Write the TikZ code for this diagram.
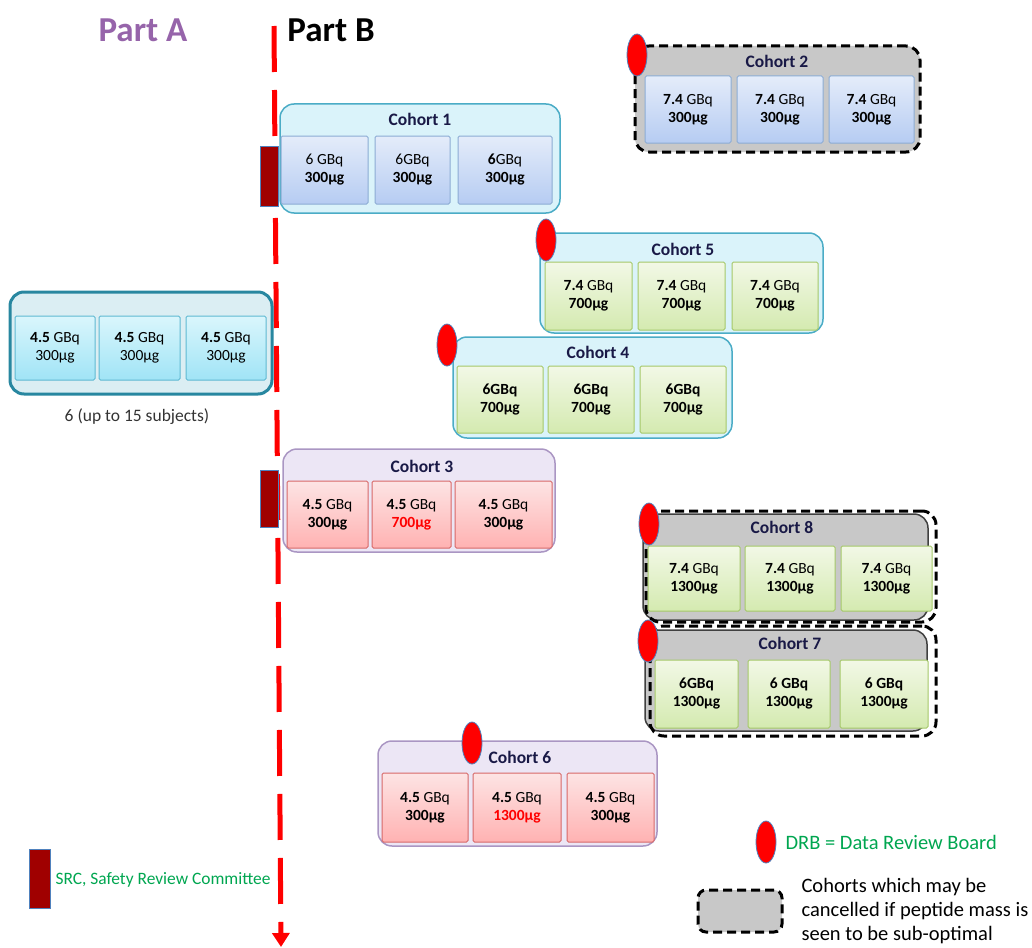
\documentclass[tikz,border=0pt]{standalone}
\usepackage{fontspec}
\setmainfont{Carlito}
\usetikzlibrary{arrows.meta, shapes.geometric}

\definecolor{cyanline}{RGB}{75,172,198}
\definecolor{cyanfill}{RGB}{218,243,250}
\definecolor{tealline}{RGB}{40,135,160}
\definecolor{tealfill}{RGB}{219,238,243}
\definecolor{blueline}{RGB}{140,172,212}
\definecolor{bluetop}{RGB}{228,236,250}
\definecolor{bluebot}{RGB}{182,204,242}
\definecolor{greenline}{RGB}{165,200,105}
\definecolor{greentop}{RGB}{242,248,230}
\definecolor{greenbot}{RGB}{212,234,176}
\definecolor{aquaedge}{RGB}{95,185,210}
\definecolor{aquatop}{RGB}{218,246,252}
\definecolor{aquabot}{RGB}{160,228,246}
\definecolor{lavline}{RGB}{170,150,195}
\definecolor{lavfill}{RGB}{236,230,245}
\definecolor{pinkline}{RGB}{215,105,105}
\definecolor{pinktop}{RGB}{253,228,228}
\definecolor{pinkbot}{RGB}{255,178,178}
\definecolor{greyfill}{RGB}{200,200,200}
\definecolor{srcred}{RGB}{160,0,0}
\definecolor{drbedge}{RGB}{79,129,189}
\definecolor{legendgreen}{RGB}{0,166,80}
\definecolor{partApurple}{RGB}{150,100,170}
\definecolor{titleblue}{RGB}{25,25,70}

\begin{document}
\begin{tikzpicture}[
		x=1pt, y=-1pt,
		% Cohort frame styles
		frame/.style={rounded corners=14pt, inner sep=0pt, line width=1.5pt},
		frameC/.style={frame, draw=cyanline, fill=cyanfill},
		frameA/.style={frame, draw=tealline, fill=tealfill, line width=3pt},
		frameP/.style={frame, draw=lavline, fill=lavfill},
		frameG/.style={frame, draw=black!75, fill=greyfill},
		frameX/.style={frame, draw=black, line width=3pt, dash pattern=on 9pt off 5pt},
		cohorttitle/.style={font=\fontsize{17.5}{20}\selectfont\bfseries, text=titleblue},
		% Dose box styles
		dose/.style={inner sep=0pt, rounded corners=1.5pt, line width=1pt, align=center, font=\fontsize{15.5}{18}\selectfont},
		doseB/.style={dose, draw=blueline, top color=bluetop, bottom color=bluebot},
		doseG/.style={dose, draw=greenline, top color=greentop, bottom color=greenbot},
		doseA/.style={dose, draw=aquaedge, top color=aquatop, bottom color=aquabot},
		doseP/.style={dose, draw=pinkline, top color=pinktop, bottom color=pinkbot},
		% Review markers
		drb/.style={ellipse, fill=red, draw=drbedge, line width=0.8pt, minimum width=20pt, minimum height=42pt, inner sep=0pt},
		src/.style={rectangle, fill=srcred, draw=drbedge, line width=0.8pt, inner sep=0pt},
		legendtext/.style={font=\fontsize{20.5}{24}\selectfont}
		]
		
		\useasboundingbox (0,0) rectangle (1032,947);
		
		% --- HEADINGS AND DIVIDER ---
		\node[font=\fontsize{35}{40}\selectfont\bfseries, text=partApurple] (partA) at (143,30) {Part A};
		\node[font=\fontsize{35}{40}\selectfont\bfseries] (partB) at (331,30) {Part B};
		
		\coordinate (divtop) at (274,26);
		\coordinate (divbot) at (281,947);
		\draw[red, line width=5pt, dash pattern=on 46pt off 18pt, -{Triangle[width=17pt,length=14pt]}] (divtop) -- (divbot);
		
		% --- PART A ---
		\node[frameA, minimum width=262pt, minimum height=102pt] (pA) at (141,343) {};
		\foreach \cx/\w [count=\i] in {55/80, 139.5/81, 226/80}
		\node[doseA, minimum width=\w pt, minimum height=64pt] (pAd\i) at (\cx,348) {\textbf{4.5} GBq\\300µg};
		\node[font=\fontsize{17.5}{20}\selectfont, text=black!80] (pAn) at (137,417) {6 (up to 15 subjects)};
		
		% --- PART B ---
		
		% 1. Cohort 1
		\node[frameC, minimum width=280pt, minimum height=109pt] (c1) at (420,158.5) {};
		\node[cohorttitle] (c1t) at (420,119) {Cohort 1};
		\foreach \cx/\w/\gb [count=\i] in {324.5/87/{6 GBq}, 412.5/75/{6GBq}, 505/94/{\textbf{6}GBq}}
		\node[doseB, minimum width=\w pt, minimum height=68pt] (c1d\i) at (\cx,170) {\gb\\\textbf{300µg}};
		\node[src, minimum width=18pt, minimum height=60pt] (src1) at (269,176) {};
		
		% 2. Cohort 2
		\node[frameG, draw=none, minimum width=285pt, minimum height=106pt] (c2) at (777.5,99) {};
		\node[frameX, minimum width=285pt, minimum height=106pt] (c2x) at (777.5,99) {};
		\node[cohorttitle] (c2t) at (777,61) {Cohort 2};
		\foreach \cx/\w [count=\i] in {688/86, 780/86, 871.5/85}
		\node[doseB, minimum width=\w pt, minimum height=67pt] (c2d\i) at (\cx,109.5) {\textbf{7.4} GBq\\\textbf{300µg}};
		\node[drb] (drb2) at (637,55) {};
		
		% 5. Cohort 5
		\node[frameC, minimum width=283pt, minimum height=100pt] (c5) at (681.5,283) {};
		\node[cohorttitle] (c5t) at (683,249) {Cohort 5};
		\foreach \cx/\w [count=\i] in {588.5/87, 681.5/87, 775/86}
		\node[doseG, minimum width=\w pt, minimum height=68pt] (c5d\i) at (\cx,296) {\textbf{7.4} GBq\\\textbf{700µg}};
		\node[drb] (drb5) at (546,240) {};
		
		% 4. Cohort 4
		\node[frameC, minimum width=279pt, minimum height=101pt] (c4) at (592.5,387.5) {};
		\node[cohorttitle] (c4t) at (598,352) {Cohort 4};
		\foreach \cx/\w [count=\i] in {500/86, 591/86, 683/86}
		\node[doseG, minimum width=\w pt, minimum height=67pt] (c4d\i) at (\cx,399.5) {\textbf{6GBq}\\\textbf{700µg}};
		\node[drb] (drb4) at (447,345) {};
		
		% 3. Cohort 3
		\node[frameP, minimum width=272pt, minimum height=103pt] (c3) at (419,500.5) {};
		\node[cohorttitle] (c3t) at (422,466) {Cohort 3};
		\foreach \cx/\w/\mass [count=\i] in {327.5/81/{300µg}, 411.5/79/{\textcolor{red}{700µg}}, 503.5/97/{300µg}}
		\node[doseP, minimum width=\w pt, minimum height=67pt] (c3d\i) at (\cx,514.5) {\textbf{4.5} GBq\\\textbf{\mass}};
		\node[src, minimum width=18pt, minimum height=57pt] (src3) at (269,498.5) {};
		
		% 8. Cohort 8
		\node[frameG, minimum width=285pt, minimum height=106pt] (c8) at (785.5,567) {};
		\node[frameX, minimum width=290pt, minimum height=111pt] (c8x) at (791,566.5) {};
		\node[cohorttitle] (c8t) at (782,527) {Cohort 8};
		\foreach \cx/\w [count=\i] in {694/92, 790/90, 886.5/91}
		\node[doseG, minimum width=\w pt, minimum height=65pt] (c8d\i) at (\cx,578.5) {\textbf{7.4} GBq\\\textbf{1300µg}};
		\node[drb] (drb8) at (649,524) {};
		
		% 7. Cohort 7
		\node[frameG, minimum width=282pt, minimum height=101pt] (c7) at (786,680.5) {};
		\node[frameX, minimum width=286pt, minimum height=110pt] (c7x) at (793,681) {};
		\node[cohorttitle] (c7t) at (790,643) {Cohort 7};
		\foreach \cx/\w/\gb [count=\i] in {696.5/83/{6GBq}, 789/82/{6 GBq}, 884/88/{6 GBq}}
		\node[doseG, minimum width=\w pt, minimum height=68pt] (c7d\i) at (\cx,694) {\textbf{\gb}\\\textbf{1300µg}};
		\node[drb] (drb7) at (648,641) {};
		
		% 6. Cohort 6
		\node[frameP, minimum width=279pt, minimum height=105pt] (c6) at (517.5,793.5) {};
		\node[cohorttitle] (c6t) at (520,757) {Cohort 6};
		\foreach \cx/\w/\mass [count=\i] in {425/86/{300µg}, 517/88/{\textcolor{red}{1300µg}}, 610.5/87/{300µg}}
		\node[doseP, minimum width=\w pt, minimum height=69pt] (c6d\i) at (\cx,807.5) {\textbf{4.5} GBq\\\textbf{\mass}};
		\node[drb] (drb6) at (472,743) {};
		
		% --- LEGEND ---
		\node[drb] (keydrb) at (766,842) {};
		\node[legendtext, text=legendgreen, anchor=west] (keydrbt) at (782,842) {DRB = Data Review Board};
		
		\node[frameX, fill=greyfill, rounded corners=8pt, minimum width=84pt, minimum height=42pt] (keyx) at (740,911) {};
		\node[legendtext, align=left, anchor=west] (keyxt) at (798,911) {Cohorts which may be\\cancelled if peptide mass is\\seen to be sub-optimal};
		
		\node[src, minimum width=21pt, minimum height=59pt] (keysrc) at (39.5,878.5) {};
		\node[font=\fontsize{17.4}{20}\selectfont, text=legendgreen, anchor=west] (keysrct) at (52,880) {SRC, Safety Review Committee};
		
	\end{tikzpicture}
\end{document}
